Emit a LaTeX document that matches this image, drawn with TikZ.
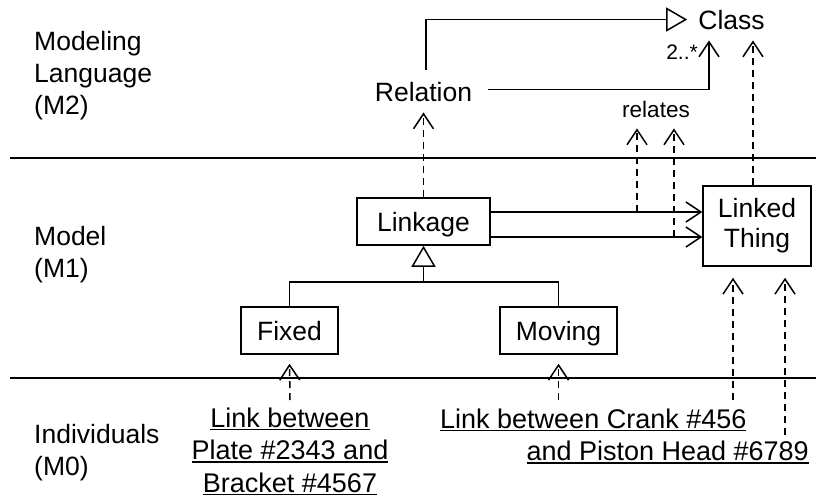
\documentclass[tikz,border=0pt]{standalone}
\usepackage{fontspec}
\setmainfont{Liberation Sans}
\usetikzlibrary{arrows.meta}
\newcommand\myul[1]{\setbox0\hbox{#1}\rlap{\rule[-3pt]{\wd0}{1.4pt}}\box0}
\begin{document}
\begin{tikzpicture}[x=1pt,y=-1pt,
  txt/.style={inner sep=0pt, font=\fontsize{26.5}{32}\selectfont},
  ind/.style={inner sep=0pt, font=\fontsize{27}{32.5}\selectfont},
  box/.style={draw, line width=1.5pt, inner sep=0pt, minimum height=47pt, text height=19pt, text depth=0pt, font=\fontsize{26.5}{32}\selectfont},
  conn/.style={line width=1.5pt},
  dep/.style={conn, dash pattern=on 7pt off 5pt, -{Straight Barb[length=15pt,width=20pt]}},
  assoc/.style={conn, -{Straight Barb[length=15pt,width=20pt]}},
  gen/.style={conn, -{Triangle[open,length=21pt,width=24pt]}},
  sep/.style={line width=2.2pt}]
\useasboundingbox (0,0) rectangle (816,498);
% level separators
\draw[sep] (10,158) -- (816,158);
\draw[sep] (10,378) -- (816,378);
% level labels
\node[txt, anchor=north west, align=left] (m2) at (34,30.7) {Modeling\\Language\\(M2)};
\node[txt, anchor=north west, align=left] (m1) at (34,225.7) {Model\\(M1)};
\node[txt, anchor=north west, align=left] (m0) at (34,423.7) {Individuals\\(M0)};
% M2
\node[txt, anchor=base] (class) at (731.5,29) {Class};
\node[txt, anchor=base] (rel) at (423.5,101) {Relation};
\node[txt, anchor=base, font=\fontsize{22.5}{27}\selectfont] (relates) at (656,117) {relates};
\node[txt, anchor=base east, font=\fontsize{21}{25}\selectfont] (mult) at (698,59) {2..*};
% M1
\node[box, minimum width=133pt] (lk) at (423.5,221.5) {Linkage};
\node[box, minimum width=97pt] (fx) at (289.5,330.5) {Fixed};
\node[box, minimum width=117pt] (mv) at (558.5,330.5) {Moving};
\node[draw, line width=1.5pt, inner sep=0pt, minimum width=108pt, minimum height=80pt, align=center, font=\fontsize{26.5}{30}\selectfont] (lt) at (757,226) {Linked\\Thing};
% M0
\node[ind, anchor=north, align=center] (ia) at (290,407.5) {\myul{Link between}\\\myul{Plate \#2343 and}\\\myul{Bracket \#4567}};
\node[ind, anchor=base west] (ib1) at (440,428) {\myul{Link between Crank \#456}};
\node[ind, anchor=base east] (ib2) at (809,460.5) {\myul{and Piston Head \#6789}};
% M2 connectors
\draw[gen] ([xshift=2.5pt,yshift=12pt]rel.north) |- ([xshift=-11pt]class.west);
\draw[assoc] ([xshift=16pt,yshift=2pt]rel.east) -| ([xshift=-22.5pt,yshift=-11pt]class.south);
% instance-of links M1 -> M2
\draw[dep] ([xshift=-4pt]lt.north) -- ([xshift=21.5pt,yshift=-11pt]class.south);
\draw[dep] (lk.north) -- ([yshift=-11pt]rel.south);
% Linkage -> Linked Thing
\draw[assoc] ([yshift=9.5pt]lk.east) -- ([yshift=9.5pt]lk.east -| lt.west);
\draw[assoc] ([yshift=-15.5pt]lk.east) -- ([yshift=-15.5pt]lk.east -| lt.west);
\coordinate (ra) at (637,212);
\coordinate (rb) at (674,237);
\coordinate (rt) at ([yshift=-11pt]relates.south);
\draw[dep] (ra) -- (ra |- rt);
\draw[dep] (rb) -- (rb |- rt);
% generalization
\coordinate (gj) at (423.5,282);
\draw[conn] (fx.north) |- (gj) -| (mv.north);
\draw[gen] (gj) -- (lk.south);
% M0 -> M1
\draw[dep] ([yshift=7.5pt]ia.north) -- ([yshift=-9pt]fx.south);
\draw[dep] ([xshift=118.5pt,yshift=8pt]ib1.north west) -- ([yshift=-9pt]mv.south);
\draw[dep] ([xshift=293pt,yshift=8pt]ib1.north west) -- ([xshift=-24pt,yshift=-11pt]lt.south);
\draw[dep] ([xshift=-24pt,yshift=6pt]ib2.north east) -- ([xshift=28pt,yshift=-11pt]lt.south);
\end{tikzpicture}
\end{document}
